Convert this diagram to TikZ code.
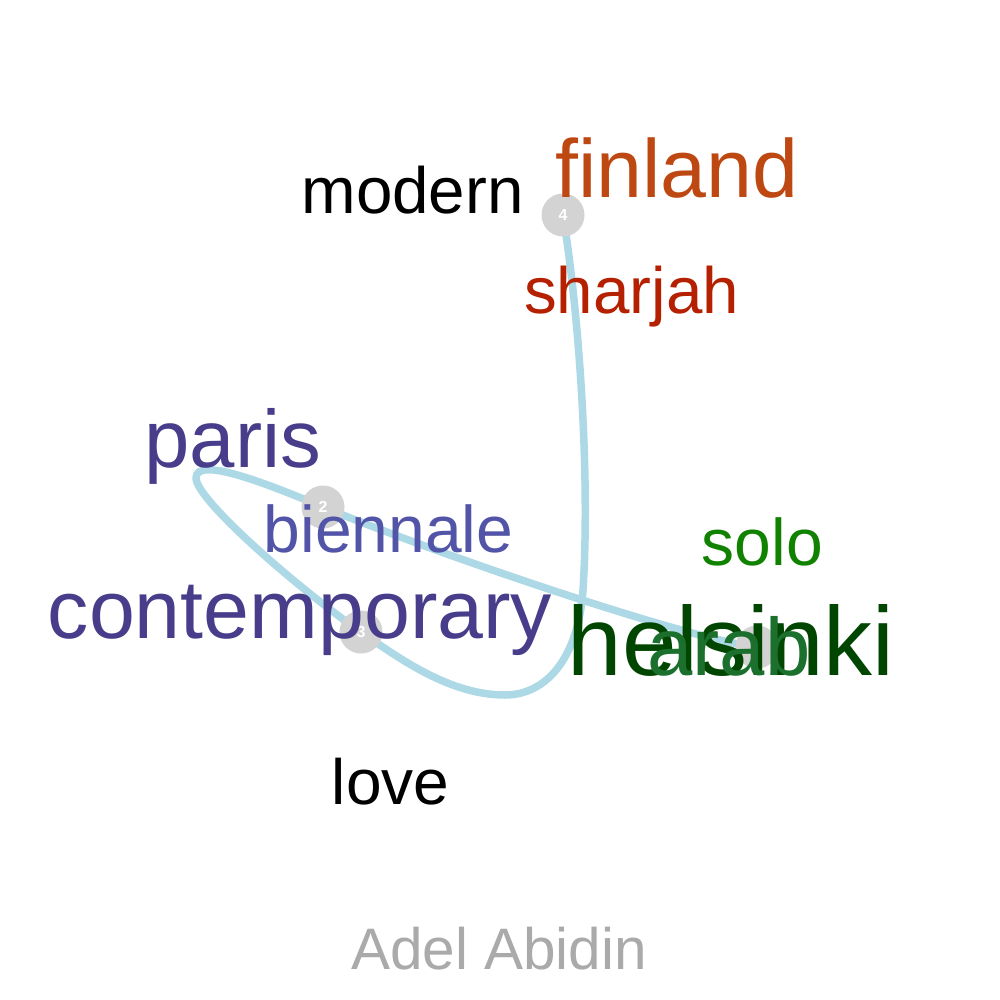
\documentclass[tikz,border=0pt]{standalone}
\usepackage{fontspec}
\setmainfont{Liberation Sans}
\definecolor{cfinland}{RGB}{190,72,18}
\definecolor{csharjah}{RGB}{180,32,0}
\definecolor{cslate}{RGB}{72,61,139}
\definecolor{cbien}{RGB}{82,84,168}
\definecolor{chels}{RGB}{0,70,0}
\definecolor{carab}{RGB}{26,112,44}
\definecolor{csolo}{RGB}{16,130,0}
\definecolor{cgrayt}{RGB}{170,170,170}
\definecolor{ccurve}{RGB}{173,216,230}
\definecolor{ccirc}{RGB}{211,211,211}
\begin{document}
\begin{tikzpicture}[x=1pt,y=-1pt,
  word/.style={inner sep=0pt,anchor=base},
  dot/.style={circle,fill=ccirc,minimum size=43pt,inner sep=0pt,text=white,font=\fontsize{16}{16}\selectfont\bfseries},
  trail/.style={draw=ccurve,line width=7.5pt,line cap=round,line join=round}]
\fill[white] (0,0) rectangle (1000,1000);
\useasboundingbox (0,0) rectangle (1000,1000);
\coordinate (p1) at (757,647);
\coordinate (p2) at (323,507);
\coordinate (p3) at (361,632);
\coordinate (p4) at (563,215);
\draw[trail] (p1) .. controls (690,640) and (440,555) .. (p2)
  .. controls (270,485) and (196,455) .. (196,478)
  .. controls (196,500) and (300,590) .. (p3)
  .. controls (400,659) and (450,695) .. (505,695)
  .. controls (545,695) and (578,660) .. (583,590)
  .. controls (590,480) and (580,320) .. (p4);
\node[dot] (n1) at (p1) {1};
\node[dot] (n2) at (p2) {2};
\node[dot] (n3) at (p3) {3};
\node[dot] (n4) at (p4) {4};
\node[word,font=\fontsize{65.5}{65.5}\selectfont] (modern) at (412.5,214) {modern};
\node[word,font=\fontsize{82.5}{82.5}\selectfont,text=cfinland] (finland) at (677,198) {finland};
\node[word,font=\fontsize{65.5}{65.5}\selectfont,text=csharjah] (sharjah) at (631.5,313) {sharjah};
\node[word,font=\fontsize{81.5}{81.5}\selectfont,text=cslate] (paris) at (233,467) {paris};
\node[word,font=\fontsize{66}{66}\selectfont,text=cbien] (biennale) at (388.5,552) {biennale};
\node[word,font=\fontsize{82.5}{82.5}\selectfont,text=cslate] (contemporary) at (300,638) {contemporary};
\node[word,font=\fontsize{66}{66}\selectfont,text=csolo] (solo) at (762.5,565) {solo};
\node[word,font=\fontsize{98}{98}\selectfont,text=chels] (helsinki) at (731,675) {helsinki};
\node[word,font=\fontsize{81.5}{81.5}\selectfont,text=carab] (arab) at (729,675) {arab};
\node[word,font=\fontsize{64}{64}\selectfont] (love) at (390.5,804) {love};
\node[word,font=\fontsize{58.5}{58.5}\selectfont,text=cgrayt] (artist) at (499,969) {Adel Abidin};
\end{tikzpicture}
\end{document}
